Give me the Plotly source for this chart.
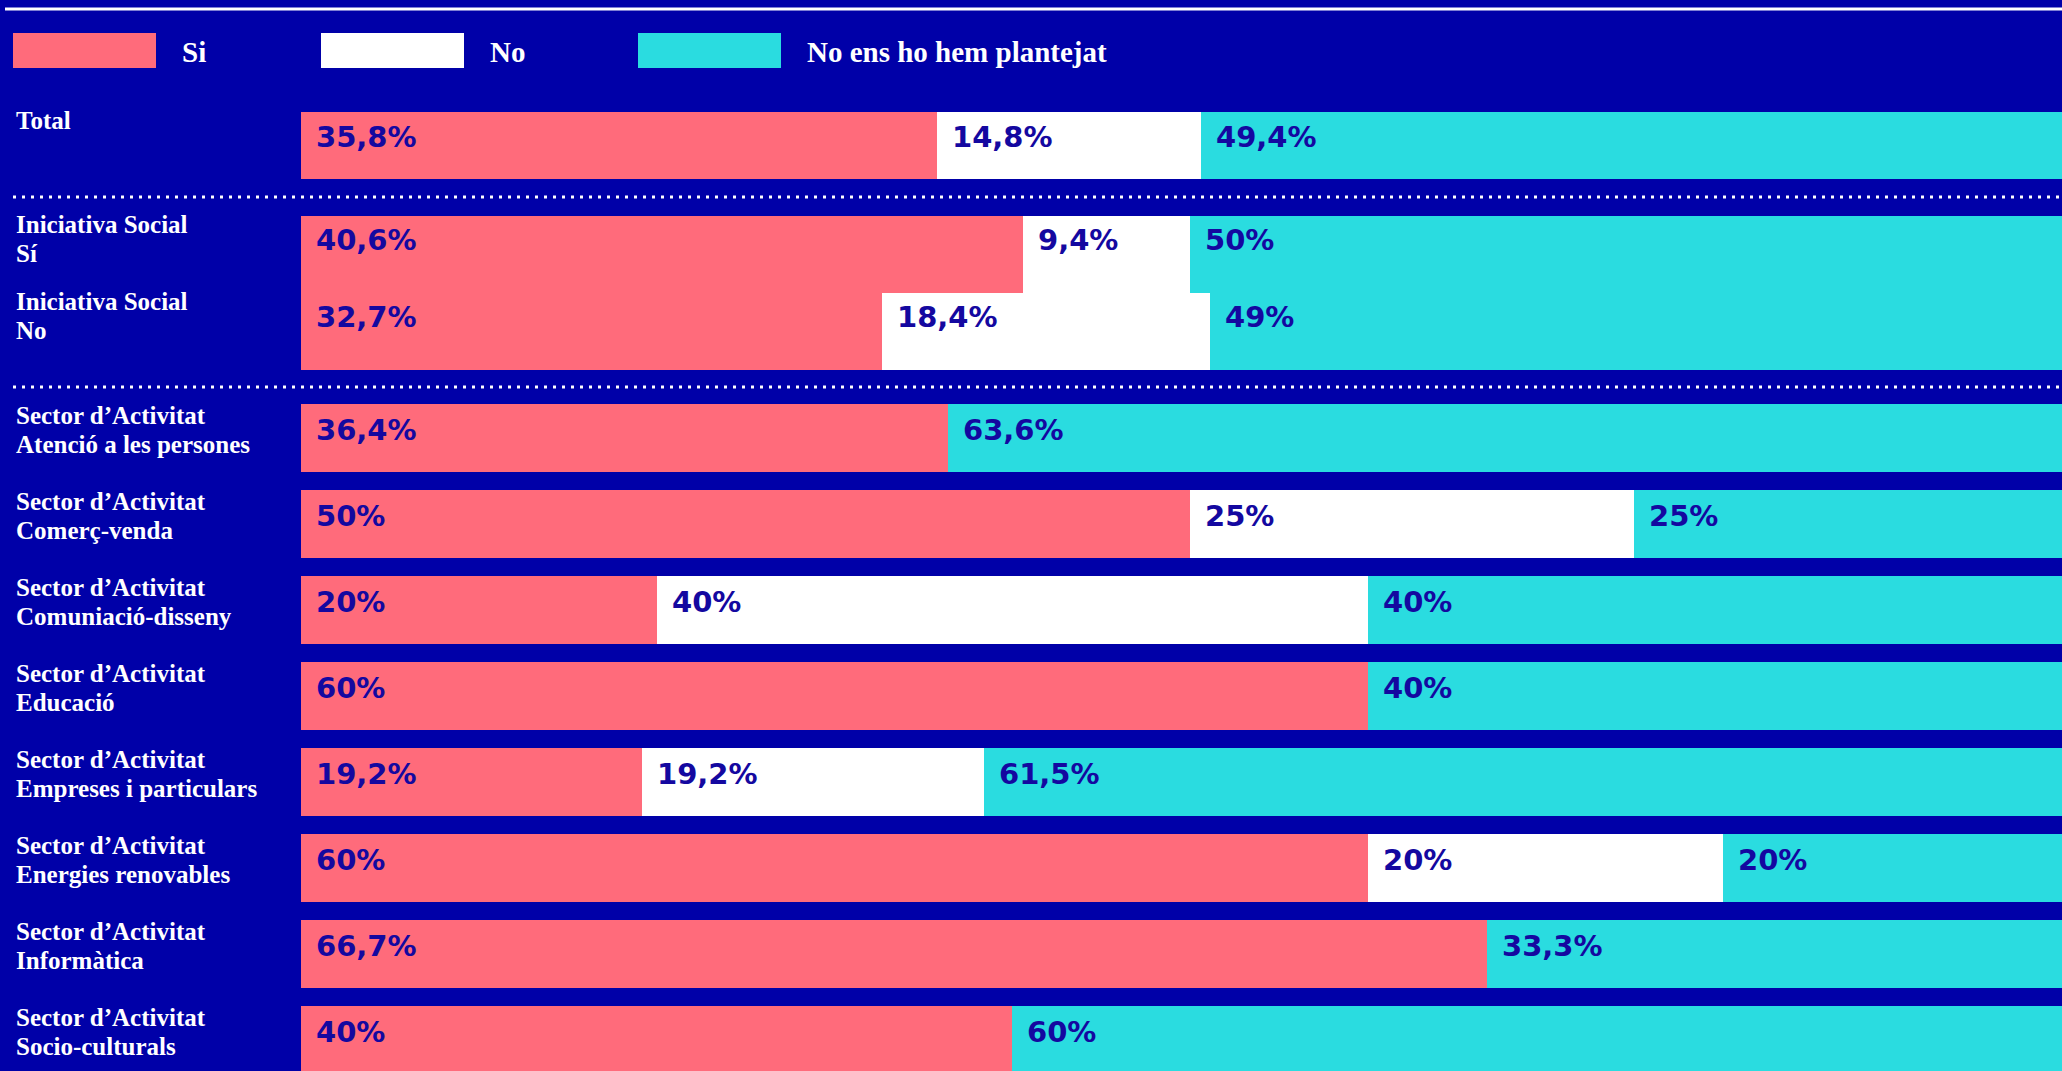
import plotly.graph_objects as go

# ---------------- data ----------------
series_names = ["Si", "No", "No ens ho hem plantejat"]
series_colors = ["#FF6B7B", "#FFFFFF", "#2ADCE0"]

total_cats = ["Total"]
total_si = [35.8]
total_no = [14.8]
total_np = [49.4]

is_cats = ["Iniciativa Social<br>Sí", "Iniciativa Social<br>No"]
is_si = [40.6, 32.7]
is_no = [9.4, 18.4]
is_np = [50, 49]

sector_cats = [
    "Sector d’Activitat<br>Atenció a les persones",
    "Sector d’Activitat<br>Comerç-venda",
    "Sector d’Activitat<br>Comuniació-disseny",
    "Sector d’Activitat<br>Educació",
    "Sector d’Activitat<br>Empreses i particulars",
    "Sector d’Activitat<br>Energies renovables",
    "Sector d’Activitat<br>Informàtica",
    "Sector d’Activitat<br>Socio-culturals",
]
sector_si = [36.4, 50, 20, 60, 19.2, 60, 66.7, 40]
sector_no = [0, 25, 40, 0, 19.2, 20, 0, 0]
sector_np = [63.6, 25, 40, 40, 61.5, 20, 33.3, 60]

# ---------------- style ----------------
W, H = 2062, 1071
BG = "#0000A8"
TXT_DARK = "#1408A0"
LABEL_FONT = dict(family="Liberation Serif", size=25, color="white", weight="bold")
LEGEND_FONT = dict(family="Liberation Serif", size=29, color="white", weight="bold")
VALUE_FONT = dict(family="DejaVu Sans", size=29, color=TXT_DARK, weight="bold")
LEFT = 301
XMAX = 99.05
LINE_GAP = 29  # px between label lines


def py(px):
    return 1 - px / H


def fmt(v):
    s = f"{v:.1f}".rstrip("0").rstrip(".")
    return s.replace(".", ",") + "%"


groups = [
    # cats, values, axis id, top px, bottom px, pitch px, bar width, label yshift, value yshift
    (total_cats, [total_si, total_no, total_np], "", 112, 179, 67, 1.0, 40, 8),
    (is_cats, [is_si, is_no, is_np], "2", 216, 370, 77, 1.0, 45, 14),
    (sector_cats, [sector_si, sector_no, sector_np], "3", 395, 1071, 86, 0.78, 38, 8),
]

fig = go.Figure()
annotations = []
layout_axes = {}

for cats, vals, ax, top, bot, pitch, bw, lshift, vshift in groups:
    yref = "y" + ax
    for name, color, v in zip(series_names, series_colors, vals):
        fig.add_trace(go.Bar(
            y=cats, x=v, name=name, orientation="h",
            marker=dict(color=color, line=dict(width=0)),
            width=bw, yaxis=yref, xaxis="x", showlegend=False,
            hoverinfo="x+y+name",
        ))
    nrows = (bot - top) / pitch
    layout_axes["yaxis" + ax] = dict(
        domain=[py(bot), py(top)], anchor="x", type="category",
        range=[nrows - 0.5, -0.5], visible=False, fixedrange=True,
    )
    for i, c in enumerate(cats):
        # value labels
        base = 0
        for v in vals:
            if v[i] > 0:
                annotations.append(dict(
                    x=base, y=c, xref="x", yref=yref, text=fmt(v[i]),
                    xanchor="left", yanchor="middle", xshift=13, yshift=vshift,
                    showarrow=False, font=VALUE_FONT,
                ))
            base += v[i]
        # row label, one annotation per line for tight leading
        for k, line in enumerate(c.split("<br>")):
            annotations.append(dict(
                x=14 / W, y=c, xref="paper", yref=yref, text=line,
                xanchor="left", yanchor="top", yshift=lshift - k * LINE_GAP,
                align="left", showarrow=False, font=LABEL_FONT,
            ))

shapes = []
# top rule
shapes.append(dict(type="line", xref="paper", yref="paper", x0=5 / W, x1=1,
                   y0=py(9), y1=py(9), line=dict(color="white", width=3)))
# dotted separators
for ypx in (197, 387):
    shapes.append(dict(type="line", xref="paper", yref="paper", x0=13 / W, x1=1,
                       y0=py(ypx), y1=py(ypx),
                       line=dict(color="white", width=3, dash="3px,6px")))

# legend (swatches + labels)
leg_sw_x = [13, 321, 638]
leg_txt_x = [180, 488, 805]
for name, color, sx, tx in zip(series_names, series_colors, leg_sw_x, leg_txt_x):
    shapes.append(dict(type="rect", xref="paper", yref="paper",
                       x0=sx / W, x1=(sx + 143) / W, y0=py(68), y1=py(33),
                       fillcolor=color, line=dict(width=0)))
    annotations.append(dict(x=tx / W, y=py(52), xref="paper", yref="paper",
                            text=name, xanchor="left", yanchor="middle",
                            showarrow=False, font=LEGEND_FONT))

fig.update_layout(
    width=W, height=H, autosize=False,
    margin=dict(l=0, r=0, t=0, b=0, pad=0),
    paper_bgcolor=BG, plot_bgcolor=BG,
    barmode="stack", bargap=0,
    xaxis=dict(domain=[LEFT / W, 1], range=[0, XMAX], visible=False,
               fixedrange=True, anchor="y"),
    shapes=shapes, annotations=annotations, showlegend=False,
    **layout_axes,
)

fig.write_html("out.html", post_script="document.body.style.margin='0';",
               config={"displayModeBar": False})
